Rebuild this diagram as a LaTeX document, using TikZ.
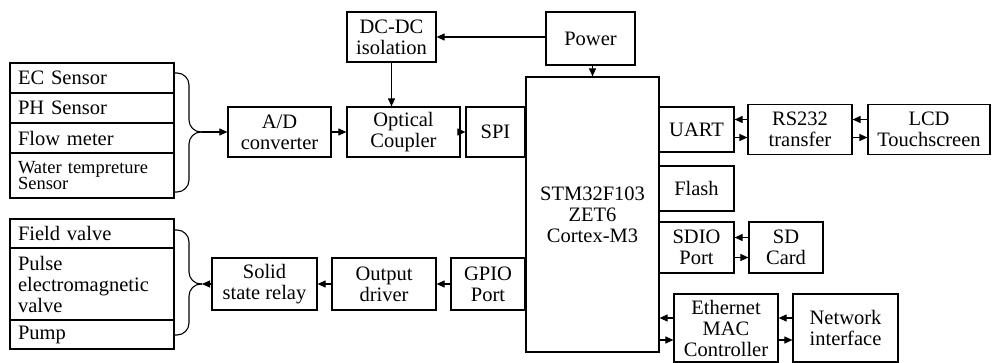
\documentclass[tikz,border=0pt]{standalone}
\usepackage{fontspec}
\setmainfont{Liberation Serif}
\usetikzlibrary{arrows.meta}
\tikzset{
 hw flow/.style={-{Triangle[length=8pt,width=7pt]},line width=1.1pt},
 hw block/.style 2 args={draw,line width=1.2pt,inner sep=0pt,align=center,
   minimum width=#1,minimum height=#2},
 hw item/.style={draw,line width=1.2pt,inner xsep=8pt,inner ysep=0pt,
   text width=148pt,align=left,minimum height=#1},
 hw brace/.style={line width=1.1pt,rounded corners=12pt}
}

\begin{document}
\begin{tikzpicture}[x=1pt,y=-1pt,font=\fontsize{20.5}{21}\selectfont]
\useasboundingbox (0,0) rectangle (992,363);
% inputs
\node[hw item=30pt] (ec) at (92,78) {EC Sensor};
\node[hw item=30pt] (ph) at (92,108) {PH Sensor};
\node[hw item=30pt] (flow) at (92,138) {Flow meter};
\node[hw item=45pt,font=\fontsize{18.5}{16.5}\selectfont] (water) at (92,175.5)
 {Water tempreture\\Sensor};
% outputs
\node[hw item=29pt] (fv) at (92,233.5) {Field valve};
\node[hw item=72pt] (pulse) at (92,284) {Pulse\\electromagnetic\\valve};
\node[hw item=29pt] (pump) at (92,334.5) {Pump};
% acquisition chain
\node[hw block={103pt}{50pt}] (ad) at (279.5,132) {A/D\\converter};
\node[hw block={113pt}{50pt}] (opt) at (403.5,132) {Optical\\Coupler};
\node[hw block={59pt}{50pt}] (spi) at (495.5,132) {SPI};
\node[hw block={89pt}{50pt}] (dcdc) at (391.5,37) {DC-DC\\isolation};
\node[hw block={89pt}{53pt}] (power) at (590.5,38.5) {Power};
% controller
\node[hw block={133pt}{275pt}] (mcu) at (592.5,214.5) {STM32F103\\ZET6\\Cortex-M3};
\node[hw block={75pt}{45pt}] (uart) at (696.5,129.5) {UART};
\node[hw block={104pt}{50pt}] (rs) at (800,129.5) {RS232\\transfer};
\node[hw block={122pt}{50pt}] (lcd) at (929,129.5) {LCD\\Touchscreen};
\node[hw block={75pt}{45pt}] (flash) at (696.5,188.5) {Flash};
\node[hw block={75pt}{51pt}] (sdio) at (696.5,247.5) {SDIO\\Port};
\node[hw block={74pt}{51pt}] (sd) at (786,247.5) {SD\\Card};
\node[hw block={104pt}{68pt}] (eth) at (726,328) {Ethernet\\MAC\\Controller};
\node[hw block={105pt}{68pt}] (net) at (845.5,328) {Network\\interface};
% output chain
\node[hw block={74pt}{52pt}] (gpio) at (488,284) {GPIO\\Port};
\node[hw block={104pt}{52pt}] (drv) at (384,284) {Output\\driver};
\node[hw block={105pt}{52pt}] (ssr) at (264.5,284) {Solid\\state relay};

% braces
\coordinate (in tip) at (202,132);
\coordinate (out tip) at (202,284);
\draw[hw brace] (174,73) -- (189,73) -- (189,132) -- (in tip);
\draw[hw brace] (174,192) -- (189,192) -- (189,132) -- (in tip);
\draw[hw brace] (174,230) -- (189,230) -- (189,284) -- (out tip);
\draw[hw brace] (174,335) -- (189,335) -- (189,284) -- (out tip);

\draw[hw flow] (in tip) -- (ad.west);
\draw[hw flow] (ad.east) -- (opt.west);
\draw[hw flow] (opt.east) -- (spi.west);
\draw[hw flow] (dcdc.south) -- (dcdc.south |- opt.north);
\draw[hw flow] (power.west |- dcdc.east) -- (dcdc.east);
\draw[hw flow] (mcu.north |- power.south) -- (mcu.north);
\draw[hw flow] (gpio.west) -- (drv.east);
\draw[hw flow] (drv.west) -- (ssr.east);
\draw[hw flow] (ssr.west) -- (out tip);
\foreach \a/\b/\d in {uart/rs/8,rs/lcd/8,sdio/sd/10,mcu/eth/12,eth/net/12}{
 \draw[hw flow] ([yshift=10pt]\b.west) -- ([yshift=10pt]\b.west -| \a.east);
 \draw[hw flow] ([yshift=-\d pt]\b.west -| \a.east) -- ([yshift=-\d pt]\b.west);
}
\end{tikzpicture}
\end{document}
